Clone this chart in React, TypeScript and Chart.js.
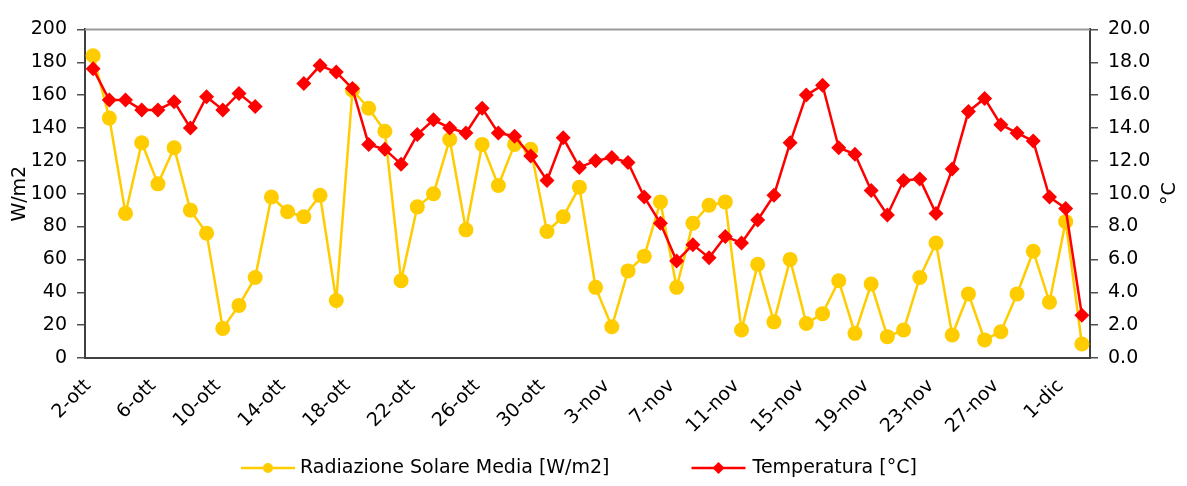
import React, { useEffect, useRef } from "react";
import { Chart, registerables } from "chart.js";

Chart.register(...registerables);

const dates: string[] = [
  "2-ott", "3-ott", "4-ott", "5-ott", "6-ott", "7-ott", "8-ott", "9-ott", "10-ott", "11-ott",
  "12-ott", "13-ott", "14-ott", "15-ott", "16-ott", "17-ott", "18-ott", "19-ott", "20-ott", "21-ott",
  "22-ott", "23-ott", "24-ott", "25-ott", "26-ott", "27-ott", "28-ott", "29-ott", "30-ott", "31-ott",
  "1-nov", "2-nov", "3-nov", "4-nov", "5-nov", "6-nov", "7-nov", "8-nov", "9-nov", "10-nov",
  "11-nov", "12-nov", "13-nov", "14-nov", "15-nov", "16-nov", "17-nov", "18-nov", "19-nov", "20-nov",
  "21-nov", "22-nov", "23-nov", "24-nov", "25-nov", "26-nov", "27-nov", "28-nov", "29-nov", "30-nov",
  "1-dic", "2-dic",
];

const radiation: number[] = [
  184, 146, 88, 131, 106, 128, 90, 76, 18, 32,
  49, 98, 89, 86, 99, 35, 163, 152, 138, 47,
  92, 100, 133, 78, 130, 105, 130, 127, 77, 86,
  104, 43, 19, 53, 62, 95, 43, 82, 93, 95,
  17, 57, 22, 60, 21, 27, 47, 15, 45, 13,
  17, 49, 70, 14, 39, 11, 16, 39, 65, 34,
  83, 8.5,
];

const temperature: (number | null)[] = [
  17.6, 15.7, 15.7, 15.1, 15.1, 15.6, 14.0, 15.9, 15.1, 16.1,
  15.3, null, null, 16.7, 17.8, 17.4, 16.4, 13.0, 12.7, 11.8,
  13.6, 14.5, 14.0, 13.7, 15.2, 13.7, 13.5, 12.3, 10.8, 13.4,
  11.6, 12.0, 12.2, 11.9, 9.8, 8.2, 5.9, 6.9, 6.1, 7.4,
  7.0, 8.4, 9.9, 13.1, 16.0, 16.6, 12.8, 12.4, 10.2, 8.7,
  10.8, 10.9, 8.8, 11.5, 15.0, 15.8, 14.2, 13.7, 13.2, 9.8,
  9.1, 2.6,
];

const radLabel = "Radiazione Solare Media [W/m2]";
const tempLabel = "Temperatura [°C]";
const leftTitle = "W/m2";
const rightTitle = "°C";

const YELLOW = "#FFCC00";
const RED = "#FF0000";
const FONT = "'DejaVu Sans', Verdana, sans-serif";
const FS = 19;

const decorPlugin = {
  id: "decor",
  beforeDatasetsDraw(chart: any) {
    const { ctx, chartArea } = chart;
    ctx.save();
    ctx.strokeStyle = "#999999";
    ctx.lineWidth = 2;
    ctx.beginPath();
    ctx.moveTo(chartArea.left, chartArea.top);
    ctx.lineTo(chartArea.right, chartArea.top);
    ctx.stroke();
    ctx.restore();
  },
  afterDraw(chart: any) {
    const { ctx, chartArea } = chart;
    ctx.save();
    ctx.font = `${FS}px ${FONT}`;
    ctx.fillStyle = "#000";
    ctx.textAlign = "center";
    ctx.textBaseline = "middle";
    ctx.translate(1162, (chartArea.top + chartArea.bottom) / 2);
    ctx.rotate(-Math.PI / 2);
    ctx.fillText(rightTitle, 0, 0);
    ctx.restore();

    ctx.save();
    ctx.font = `${FS}px ${FONT}`;
    ctx.textBaseline = "middle";
    ctx.textAlign = "left";
    const y = 460;
    let x = 233;
    const lineLen = 54;
    ctx.strokeStyle = YELLOW;
    ctx.lineWidth = 2.5;
    ctx.beginPath();
    ctx.moveTo(x, y);
    ctx.lineTo(x + lineLen, y);
    ctx.stroke();
    ctx.fillStyle = YELLOW;
    ctx.beginPath();
    ctx.arc(x + lineLen / 2, y, 5, 0, Math.PI * 2);
    ctx.fill();
    ctx.fillStyle = "#000";
    ctx.fillText(radLabel, x + lineLen + 5, y);
    x = x + lineLen + 5 + ctx.measureText(radLabel).width + 82;
    ctx.strokeStyle = RED;
    ctx.beginPath();
    ctx.moveTo(x, y);
    ctx.lineTo(x + lineLen, y);
    ctx.stroke();
    ctx.fillStyle = RED;
    const cx = x + lineLen / 2;
    const r = 6;
    ctx.beginPath();
    ctx.moveTo(cx, y - r);
    ctx.lineTo(cx + r, y);
    ctx.lineTo(cx, y + r);
    ctx.lineTo(cx - r, y);
    ctx.closePath();
    ctx.fill();
    ctx.fillStyle = "#000";
    ctx.fillText(tempLabel, x + lineLen + 7, y);
    ctx.restore();
  },
};

export default function App() {
  const ref = useRef<HTMLCanvasElement | null>(null);
  useEffect(() => {
    if (!ref.current) return;
    const chart = new Chart(ref.current, {
      type: "line",
      data: {
        labels: dates,
        datasets: [
          {
            label: radLabel,
            data: radiation,
            yAxisID: "y",
            borderColor: YELLOW,
            backgroundColor: YELLOW,
            pointBackgroundColor: YELLOW,
            pointBorderColor: YELLOW,
            pointStyle: "circle",
            pointRadius: 7.5,
            pointBorderWidth: 0,
            borderWidth: 2.5,
            tension: 0,
            order: 1,
          },
          {
            label: tempLabel,
            data: temperature,
            yAxisID: "y1",
            borderColor: RED,
            backgroundColor: RED,
            pointBackgroundColor: RED,
            pointBorderColor: RED,
            pointStyle: "rectRot",
            pointRadius: 7.5,
            pointBorderWidth: 0,
            borderWidth: 2.5,
            tension: 0,
            spanGaps: false,
            order: 0,
          },
        ],
      },
      options: {
        responsive: false,
        animation: false,
        layout: { padding: { top: 13, left: 0, right: 0, bottom: 0 } },
        plugins: {
          legend: { display: false },
          tooltip: { enabled: false },
        },
        scales: {
          x: {
            type: "category",
            offset: true,
            grid: { display: false, drawTicks: false },
            border: { display: true, color: "#404040", width: 2 },
            ticks: {
              autoSkip: false,
              maxRotation: 45,
              minRotation: 45,
              padding: 17,
              labelOffset: -5,
              color: "#000",
              font: { family: FONT, size: FS },
              callback: (_v: any, i: number) => (i % 4 === 0 ? dates[i] : ""),
            },
            afterFit: (s: any) => {
              s.height = 120;
            },
          },
          y: {
            position: "left",
            min: 0,
            max: 200,
            grid: { drawOnChartArea: false, color: "#505050", lineWidth: 1.5, tickLength: 8 },
            border: { display: true, color: "#404040", width: 2 },
            ticks: {
              stepSize: 20,
              padding: 10,
              color: "#000",
              font: { family: FONT, size: FS },
            },
            title: {
              display: true,
              text: leftTitle,
              color: "#000",
              font: { family: FONT, size: FS },
              padding: { top: 1, bottom: 0 },
            },
            afterFit: (s: any) => {
              s.width = 77;
            },
          },
          y1: {
            position: "right",
            min: 0,
            max: 20,
            grid: { drawOnChartArea: false, color: "#505050", lineWidth: 1.5, tickLength: 8 },
            border: { display: true, color: "#404040", width: 2 },
            ticks: {
              stepSize: 2,
              padding: 10,
              color: "#000",
              font: { family: FONT, size: FS },
              callback: (v: any) => Number(v).toFixed(1),
            },
            afterFit: (s: any) => {
              s.width = 89;
            },
          },
        },
      },
      plugins: [decorPlugin],
    });
    return () => chart.destroy();
  }, []);
  return <canvas ref={ref} width={1171} height={470} style={{ display: "block" }} />;
}
